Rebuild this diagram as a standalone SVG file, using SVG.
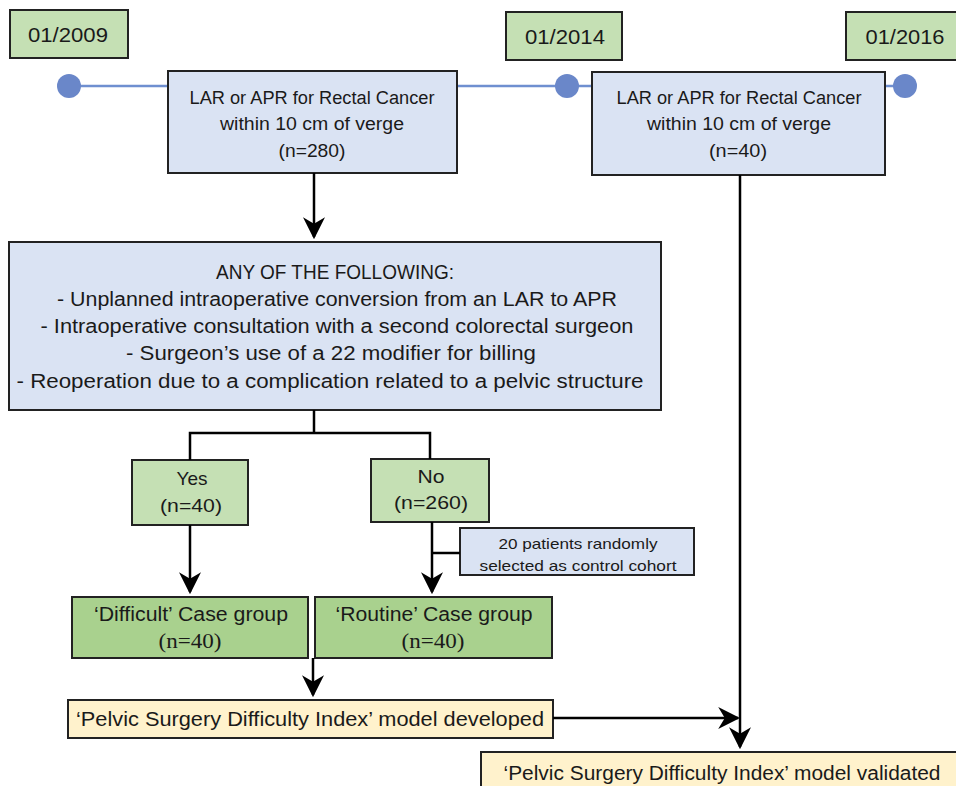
<svg xmlns="http://www.w3.org/2000/svg" width="956" height="786" viewBox="0 0 956 786">
<style>
.t{font-family:"Liberation Sans",Arial,sans-serif;fill:#1a1a1a;text-anchor:middle}
.s{font-family:"Liberation Serif","Times New Roman",serif;fill:#1a1a1a;text-anchor:middle}
.box{stroke:#222;stroke-width:2}
.date{fill:#c5e0b4}
.blue{fill:#dae3f3}
.lg{fill:#c5e0b4}
.dg{fill:#a9d18e}
.yel{fill:#fff2cc}
.ln{stroke:#000;stroke-width:2.5;fill:none}
.tl{stroke:#6f8fd0;stroke-width:2.5}
.dot{fill:#6a87c9}
</style>
<defs>
<marker id="ah2" viewBox="0 0 10 10" refX="9" refY="5" markerWidth="22" markerHeight="22" markerUnits="userSpaceOnUse" orient="auto">
<path d="M0,0 L10,5 L0,10 L3,5 Z" fill="#000"/>
</marker>
</defs>
<g id="timeline">
<line class="tl" x1="69" y1="86" x2="905" y2="86"/>
<circle class="dot" cx="69" cy="86" r="12"/>
<circle class="dot" cx="567" cy="86" r="12"/>
<circle class="dot" cx="905" cy="86" r="12"/>
</g>
<g id="d2009"><rect class="box date" x="10" y="10" width="118" height="48"/><text class="t" x="68" y="42" font-size="21" textLength="80" lengthAdjust="spacingAndGlyphs">01/2009</text></g>
<g id="d2014"><rect class="box date" x="506" y="12" width="116" height="48"/><text class="t" x="565" y="44" font-size="21" textLength="80" lengthAdjust="spacingAndGlyphs">01/2014</text></g>
<g id="d2016"><rect class="box date" x="846" y="12" width="115" height="48"/><text class="t" x="905" y="44" font-size="21" textLength="79" lengthAdjust="spacingAndGlyphs">01/2016</text></g>
<g id="cohort1"><rect class="box blue" x="168" y="71" width="289" height="102"/>
<text class="t" x="312" y="104" font-size="18" textLength="245" lengthAdjust="spacingAndGlyphs">LAR or APR for Rectal Cancer</text>
<text class="t" x="312" y="130" font-size="18" textLength="184" lengthAdjust="spacingAndGlyphs">within 10 cm of verge</text>
<text class="t" x="312" y="157" font-size="19" textLength="67" lengthAdjust="spacingAndGlyphs">(n=280)</text></g>
<g id="cohort2"><rect class="box blue" x="592" y="72" width="293" height="103"/>
<text class="t" x="739" y="104" font-size="18" textLength="245" lengthAdjust="spacingAndGlyphs">LAR or APR for Rectal Cancer</text>
<text class="t" x="739" y="130" font-size="18" textLength="184" lengthAdjust="spacingAndGlyphs">within 10 cm of verge</text>
<text class="t" x="738" y="157" font-size="19" textLength="58" lengthAdjust="spacingAndGlyphs">(n=40)</text></g>
<g id="criteria"><rect class="box blue" x="9" y="242" width="652" height="168"/>
<text class="t" x="335" y="279" font-size="20" textLength="238" lengthAdjust="spacingAndGlyphs">ANY OF THE FOLLOWING:</text>
<text class="t" x="337" y="306" font-size="20" textLength="560" lengthAdjust="spacingAndGlyphs">- Unplanned intraoperative conversion from an LAR to APR</text>
<text class="t" x="337" y="333" font-size="20" textLength="593" lengthAdjust="spacingAndGlyphs">- Intraoperative consultation with a second colorectal surgeon</text>
<text class="t" x="331" y="360" font-size="20" textLength="410" lengthAdjust="spacingAndGlyphs">- Surgeon’s use of a 22 modifier for billing</text>
<text class="t" x="330" y="388" font-size="20" textLength="627" lengthAdjust="spacingAndGlyphs">- Reoperation due to a complication related to a pelvic structure</text></g>
<g id="yes"><rect class="box lg" x="132" y="460" width="116" height="65"/>
<text class="t" x="192" y="485" font-size="19" textLength="31" lengthAdjust="spacingAndGlyphs">Yes</text>
<text class="t" x="191" y="512" font-size="19" textLength="62" lengthAdjust="spacingAndGlyphs">(n=40)</text></g>
<g id="no"><rect class="box lg" x="371" y="459" width="118" height="63"/>
<text class="t" x="431" y="483" font-size="19" textLength="27" lengthAdjust="spacingAndGlyphs">No</text>
<text class="t" x="431" y="509" font-size="19" textLength="74" lengthAdjust="spacingAndGlyphs">(n=260)</text></g>
<g id="control"><rect class="box blue" x="460" y="528" width="234" height="47"/>
<text class="t" x="578" y="549" font-size="15" textLength="159" lengthAdjust="spacingAndGlyphs">20 patients randomly</text>
<text class="t" x="578" y="571" font-size="15" textLength="197" lengthAdjust="spacingAndGlyphs">selected as control cohort</text></g>
<g id="difficult"><rect class="box dg" x="72" y="597" width="236" height="61"/>
<text class="t" x="191" y="621" font-size="20" textLength="194" lengthAdjust="spacingAndGlyphs">‘Difficult’ Case group</text>
<text class="s" x="190" y="648" font-size="20" textLength="63" lengthAdjust="spacingAndGlyphs">(n=40)</text></g>
<g id="routine"><rect class="box dg" x="315" y="597" width="237" height="61"/>
<text class="t" x="434" y="621" font-size="20" textLength="197" lengthAdjust="spacingAndGlyphs">‘Routine’ Case group</text>
<text class="s" x="433" y="648" font-size="20" textLength="63" lengthAdjust="spacingAndGlyphs">(n=40)</text></g>
<g id="developed"><rect class="box yel" x="68" y="700" width="485" height="38"/>
<text class="t" x="310" y="726" font-size="20" textLength="468" lengthAdjust="spacingAndGlyphs">‘Pelvic Surgery Difficulty Index’ model developed</text></g>
<g id="validated"><rect class="box yel" x="481" y="752" width="485" height="40"/>
<text class="t" x="722" y="780" font-size="20" textLength="437" lengthAdjust="spacingAndGlyphs">‘Pelvic Surgery Difficulty Index’ model validated</text></g>
<g id="connectors">
<line class="ln" x1="314" y1="173" x2="314" y2="237" marker-end="url(#ah2)"/>
<polyline class="ln" points="314,410 314,433"/>
<polyline class="ln" points="190,460 190,433 430,433 430,459"/>
<line class="ln" x1="190" y1="525" x2="190" y2="592" marker-end="url(#ah2)"/>
<line class="ln" x1="432" y1="522" x2="432" y2="592" marker-end="url(#ah2)"/>
<line class="ln" x1="432" y1="553" x2="460" y2="553"/>
<line class="ln" x1="313" y1="658" x2="313" y2="695" marker-end="url(#ah2)"/>
<line class="ln" x1="553" y1="718" x2="738" y2="718" marker-end="url(#ah2)"/>
<line class="ln" x1="740" y1="175" x2="740" y2="747" marker-end="url(#ah2)"/>
</g>
</svg>
